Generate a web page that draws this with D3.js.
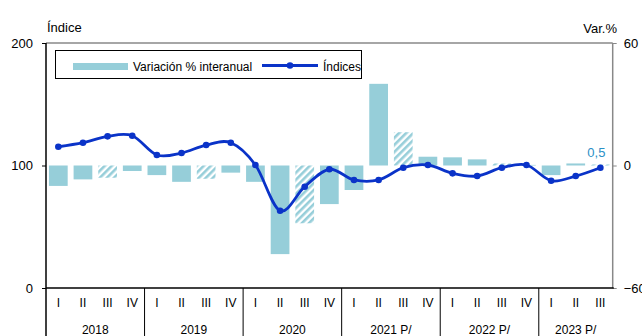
<html>
<head>
<meta charset="utf-8">
<script src="https://d3js.org/d3.v7.min.js"></script>
<style>
body {margin: 0; background: white;}
text {font-family: "Liberation Sans", Arial, sans-serif; fill: #000;}
</style>
</head>
<body>
<svg id="chart" width="642" height="336"></svg>
<script>
// data
var quarters = ["I","II","III","IV","I","II","III","IV","I","II","III","IV","I","II","III","IV","I","II","III","IV","I","II","III"];
var years = ["2018","2019","2020","2021 P/","2022 P/","2023 P/"];
var yearCounts = [4,4,4,4,4,3];
var indices = [115.3, 118.6, 123.8, 124.3, 108.6, 110.2, 116.7, 118.6, 100.4, 63.1, 82.7, 96.9, 88.2, 88.2, 98.2, 100.4, 93.6, 91.4, 98.2, 100.4, 87.6, 91.4, 98.2];
var variacion = [-10, -6.8, -6, -2.7, -4.7, -8, -6.5, -3.5, -8, -43.4, -28.3, -18.9, -12, 40, 16.3, 4.3, 4, 3, 1, 0.3, -4.7, 1, 0.5];
var hatched = [2, 6, 10, 14, 18, 22];
var leftTicks = [0, 100, 200];
var rightTicks = [-60, 0, 60];

var svg = d3.select("#chart");
var pLeft = 46, pRight = 612.7, pTop = 43, pBottom = 288;
var barColor = "#96ced9";
var lineColor = "#0a33c8";

var x = d3.scaleBand().domain(d3.range(quarters.length)).range([pLeft, pRight]).paddingInner(0.24).paddingOuter(0.12);
var step = x.step();
var cx = function(i) {return pLeft + (i + 0.5) * step;};
var yL = d3.scaleLinear().domain([0, 200]).range([pBottom, pTop]);
var yR = d3.scaleLinear().domain([-60, 60]).range([pBottom, pTop]);

// hatch pattern
var defs = svg.append("defs");
var pat = defs.append("pattern").attr("id", "hatch").attr("patternUnits", "userSpaceOnUse")
    .attr("width", 5).attr("height", 5).attr("patternTransform", "rotate(45)");
pat.append("rect").attr("width", 5).attr("height", 5).attr("fill", "white");
pat.append("rect").attr("width", 2.6).attr("height", 5).attr("fill", barColor);

// bars
svg.append("g").selectAll("rect").data(variacion).enter().append("rect")
    .attr("x", function(d, i) {return cx(i) - x.bandwidth() / 2;})
    .attr("width", x.bandwidth())
    .attr("y", function(d) {return Math.min(yR(d), yR(0));})
    .attr("height", function(d) {return Math.abs(yR(d) - yR(0));})
    .attr("fill", function(d, i) {return hatched.indexOf(i) >= 0 ? "url(#hatch)" : barColor;});

// frame: top and right grey
svg.append("line").attr("x1", pLeft).attr("x2", pRight).attr("y1", pTop).attr("y2", pTop)
    .attr("stroke", "#888").attr("stroke-width", 1.5);
svg.append("line").attr("x1", pRight).attr("x2", pRight).attr("y1", pTop).attr("y2", pBottom)
    .attr("stroke", "#888").attr("stroke-width", 1.5);

// left axis
var gL = svg.append("g").attr("transform", "translate(" + pLeft + ",0)")
    .call(d3.axisLeft(yL).tickValues(leftTicks).tickSize(4).tickPadding(9).tickFormat(d3.format("d")));
gL.select(".domain").attr("stroke", "#000").attr("stroke-width", 1.5).attr("d", "M0," + pTop + "V336");
gL.selectAll(".tick line").attr("stroke", "#000");
gL.selectAll("text").style("font-size", "13px").attr("font-family", null);

// right axis
var gR = svg.append("g").attr("transform", "translate(" + pRight + ",0)")
    .call(d3.axisRight(yR).tickValues(rightTicks).tickSize(4).tickPadding(7));
gR.select(".domain").remove();
gR.selectAll(".tick line").attr("stroke", "#888");
gR.selectAll("text").style("font-size", "13px").attr("font-family", null);

// bottom axis line
svg.append("line").attr("x1", pLeft).attr("x2", pRight + 1).attr("y1", pBottom).attr("y2", pBottom)
    .attr("stroke", "#000").attr("stroke-width", 1.5);

// quarter labels
svg.append("g").selectAll("text").data(quarters).enter().append("text")
    .attr("x", function(d, i) {return cx(i);})
    .attr("y", 307)
    .attr("text-anchor", "middle")
    .style("font-size", "12px")
    .text(function(d) {return d;});

// year labels and separators
var start = 0;
years.forEach(function(yr, k) {
    var n = yearCounts[k];
    var x0 = pLeft + start * step;
    if (k > 0) {
        svg.append("line").attr("x1", x0).attr("x2", x0).attr("y1", pBottom).attr("y2", 336)
            .attr("stroke", "#000").attr("stroke-width", 1);
    }
    svg.append("text").attr("x", x0 + n * step / 2).attr("y", 334)
        .attr("text-anchor", "middle").style("font-size", "12px").text(yr);
    start += n;
});

// index line
var line = d3.line().x(function(d, i) {return cx(i);}).y(function(d) {return yL(d);})
    .curve(d3.curveCardinal.tension(0));
svg.append("path").datum(indices).attr("d", line).attr("fill", "none")
    .attr("stroke", lineColor).attr("stroke-width", 2.8);
svg.append("g").selectAll("circle").data(indices).enter().append("circle")
    .attr("cx", function(d, i) {return cx(i);})
    .attr("cy", function(d) {return yL(d);})
    .attr("r", 3.3).attr("fill", lineColor);

// last value label
var last = variacion.length - 1;
svg.append("text").attr("x", cx(last) - 4).attr("y", 157).attr("text-anchor", "middle")
    .style("font-size", "13px").style("fill", "#2b90c6").text("0,5");

// axis titles
svg.append("text").attr("x", 47).attr("y", 32).style("font-size", "13px").text("Índice");
svg.append("text").attr("x", 617).attr("y", 33).attr("text-anchor", "end").style("font-size", "13px").text("Var.%");

// legend
svg.append("rect").attr("x", 55.5).attr("y", 50.5).attr("width", 306).attr("height", 28)
    .attr("fill", "white").attr("stroke", "#000").attr("stroke-width", 1);
svg.append("rect").attr("x", 73).attr("y", 63).attr("width", 55).attr("height", 7).attr("fill", barColor);
svg.append("text").attr("x", 133).attr("y", 70.5).style("font-size", "12px").text("Variación % interanual");
svg.append("line").attr("x1", 262).attr("x2", 318).attr("y1", 65.5).attr("y2", 65.5)
    .attr("stroke", lineColor).attr("stroke-width", 2.8);
svg.append("circle").attr("cx", 290).attr("cy", 65.5).attr("r", 3.3).attr("fill", lineColor);
svg.append("text").attr("x", 323).attr("y", 70.5).style("font-size", "12px").text("Índices");
</script>
</body>
</html>
